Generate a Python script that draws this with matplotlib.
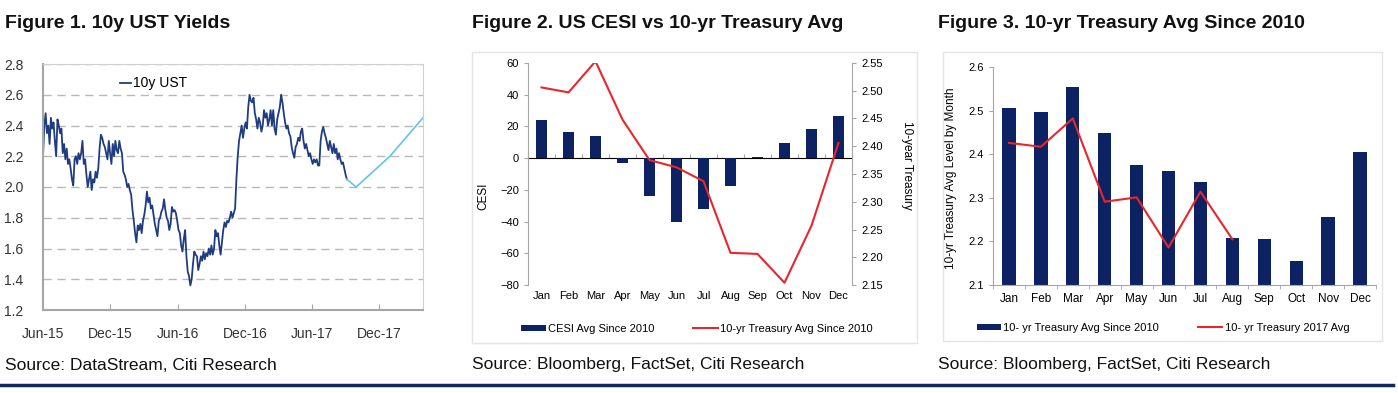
"""
Three panel Citi chart: 10y UST yields, CESI vs 10-yr Treasury avg, 10-yr Treasury avg by month
"""

import matplotlib
matplotlib.use("Agg")
import matplotlib.pyplot as plt
import matplotlib.dates as mdates
import pandas as pd
from matplotlib.patches import Rectangle
from matplotlib.lines import Line2D

plt.rcParams['font.family'] = ['Liberation Sans', 'DejaVu Sans']

months = ["Jan", "Feb", "Mar", "Apr", "May", "Jun",
          "Jul", "Aug", "Sep", "Oct", "Nov", "Dec"]

# Figure 1 - daily-ish 10y UST yield, Jun-15 to early Sep-17
ust_start = "2015-06-01"
ust_end = "2017-09-05"
ust_10y = [2.20, 2.40, 2.48, 2.35, 2.40, 2.28, 2.45, 2.38, 2.42, 2.30,
           2.20, 2.44, 2.40, 2.35, 2.38, 2.22, 2.28, 2.18, 2.25, 2.15,
           2.18, 2.12, 2.05, 2.01, 2.18, 2.20, 2.15, 2.22, 2.18, 2.22,
           2.30, 2.15, 2.18, 2.08, 2.00, 2.05, 2.10, 1.98, 2.05, 2.03,
           2.10, 2.06, 2.12, 2.25, 2.34, 2.32, 2.28, 2.26, 2.22, 2.18,
           2.30, 2.22, 2.15, 2.28, 2.20, 2.30, 2.24, 2.22, 2.30, 2.25,
           2.22, 2.10, 2.08, 2.05, 2.00, 2.02, 1.98, 1.95, 1.85, 1.78,
           1.70, 1.64, 1.75, 1.72, 1.76, 1.70, 1.78, 1.82, 1.88, 1.97,
           1.90, 1.93, 1.86, 1.88, 1.82, 1.76, 1.72, 1.68, 1.78, 1.80,
           1.84, 1.86, 1.92, 1.85, 1.80, 1.78, 1.72, 1.76, 1.87, 1.84,
           1.85, 1.83, 1.78, 1.72, 1.70, 1.62, 1.58, 1.66, 1.72, 1.55,
           1.45, 1.42, 1.36, 1.40, 1.50, 1.58, 1.56, 1.55, 1.46, 1.50,
           1.55, 1.52, 1.58, 1.53, 1.57, 1.55, 1.60, 1.56, 1.62, 1.56,
           1.60, 1.72, 1.68, 1.70, 1.62, 1.56, 1.64, 1.72, 1.77, 1.74,
           1.78, 1.77, 1.80, 1.84, 1.80, 1.83, 1.86, 2.05, 2.20, 2.30,
           2.35, 2.40, 2.32, 2.38, 2.42, 2.38, 2.52, 2.60, 2.56, 2.55,
           2.58, 2.48, 2.44, 2.38, 2.45, 2.42, 2.36, 2.40, 2.50, 2.45,
           2.48, 2.40, 2.44, 2.50, 2.40, 2.50, 2.38, 2.34, 2.44, 2.48,
           2.52, 2.60, 2.55, 2.48, 2.42, 2.38, 2.40, 2.35, 2.33, 2.26,
           2.22, 2.19, 2.26, 2.28, 2.32, 2.30, 2.36, 2.38, 2.30, 2.25,
           2.28, 2.24, 2.20, 2.22, 2.18, 2.15, 2.18, 2.16, 2.18, 2.14,
           2.14, 2.30, 2.36, 2.39, 2.35, 2.32, 2.28, 2.24, 2.30, 2.26,
           2.22, 2.28, 2.22, 2.25, 2.18, 2.22, 2.18, 2.15, 2.16, 2.12,
           2.08, 2.05]
forecast_dates = ["2017-09-05", "2017-09-30", "2017-12-31", "2018-03-31"]
forecast_vals = [2.05, 2.00, 2.20, 2.45]

# Figure 2 / 3 - monthly averages
cesi_avg = [24.2, 16.2, 13.7, -3.2, -23.6, -40.0, -32.2, -17.5, 0.6, 9.3, 18.3, 26.3]
tsy_avg_2010 = [2.506, 2.497, 2.553, 2.448, 2.375, 2.362, 2.337, 2.208, 2.206, 2.154, 2.257, 2.406]
tsy_avg_2017 = [2.426, 2.417, 2.482, 2.291, 2.301, 2.186, 2.314, 2.205]

navy = '#0c2262'
red = '#e8262b'
axis_grey = '#a6a6a6'
narrow = ['Liberation Sans Narrow', 'Liberation Sans', 'DejaVu Sans']

fig = plt.figure(figsize=(13.98, 3.93), dpi=100)
W, H = 1398, 393


def px_axes(x0, y0, x1, y1):
    # axes from pixel box (top-left origin)
    return fig.add_axes([x0 / W, 1 - y1 / H, (x1 - x0) / W, (y1 - y0) / H])


# ---------------- Figure 1 ----------------
ax1 = px_axes(43, 64, 423, 310)
dates = pd.date_range(ust_start, ust_end, periods=len(ust_10y))
ax1.plot(dates, ust_10y, color='#1f3c80', lw=1.3, label='10y UST')
ax1.plot(pd.to_datetime(forecast_dates), forecast_vals, color='#62c4e8', lw=1.2)

ax1.set_xlim(pd.Timestamp("2015-06-01"), pd.Timestamp("2018-03-31"))
ax1.set_ylim(1.2, 2.8)
ax1.set_yticks([1.2, 1.4, 1.6, 1.8, 2.0, 2.2, 2.4, 2.6, 2.8])
ax1.set_yticklabels([f"{v:.1f}" for v in ax1.get_yticks()])
ax1.xaxis.set_major_locator(mdates.MonthLocator(bymonth=[6, 12]))
ax1.xaxis.set_major_formatter(mdates.DateFormatter('%b-%y'))
ax1.yaxis.grid(True, linestyle=(0, (6, 4)), color='#b8b8b8', lw=1.0)
ax1.tick_params(axis='y', length=0, labelsize=10, pad=14, colors='#333333')
ax1.tick_params(axis='x', direction='in', length=4, color=axis_grey,
                labelsize=10, pad=12, colors='#333333')
for s in ax1.spines.values():
    s.set_color('#d0d0d0')
ax1.spines['left'].set_color(axis_grey)
ax1.spines['bottom'].set_color(axis_grey)
ax1.spines['left'].set_linewidth(1.5)
ax1.spines['bottom'].set_linewidth(1.5)
ax1.legend(loc='upper left', bbox_to_anchor=(0.17, 1.0), frameon=False,
           handlelength=0.8, handletextpad=0.1, fontsize=10)

# ---------------- Figure 2 ----------------
fig.add_artist(Rectangle((472 / W, 1 - 343 / H), (917 - 472) / W, (343 - 52) / H,
                         transform=fig.transFigure, fill=False,
                         edgecolor='#e4e4e4', lw=1.0))
ax2 = px_axes(528, 63, 852, 285)
x = list(range(len(months)))
ax2.bar(x, cesi_avg, width=0.4, color=navy, label='CESI Avg Since 2010', zorder=2)
ax2.set_xlim(-0.5, 11.5)
ax2.set_ylim(-80, 60)
ax2.set_yticks(range(-80, 61, 20))
ax2.set_xticks(x)
ax2.set_xticklabels(months)
ax2.tick_params(axis='x', length=0, labelsize=8, pad=4)
ax2.tick_params(axis='y', direction='out', length=3, color=axis_grey, labelsize=8)
ax2.set_ylabel('CESI', fontsize=8.5, va='center')
ax2.yaxis.set_label_coords((483 - 528) / 324, 0.4)
for side in ['top', 'bottom', 'right']:
    ax2.spines[side].set_visible(False)
ax2.spines['left'].set_color(axis_grey)

# zero line with category ticks
zero = ax2.secondary_xaxis(80 / 140)
zero.set_xticks([i - 0.5 for i in range(13)])
zero.set_xticklabels([])
zero.tick_params(length=3, color=axis_grey, direction='out')
zero.spines['bottom'].set_color(axis_grey)

ax2r = ax2.twinx()
ax2r.plot(x, tsy_avg_2010, color=red, lw=1.5, label='10-yr Treasury Avg Since 2010')
ax2r.set_ylim(2.15, 2.55)
ax2r.set_yticks([2.15, 2.20, 2.25, 2.30, 2.35, 2.40, 2.45, 2.50, 2.55])
ax2r.set_yticklabels([f"{v:.2f}" for v in ax2r.get_yticks()])
ax2r.tick_params(axis='y', direction='out', length=3, color=axis_grey, labelsize=8)
ax2r.set_ylabel('10-year Treasury', fontsize=8.5, rotation=270, va='center')
ax2r.yaxis.set_label_coords((907 - 528) / 324, 0.54)
for side in ['top', 'bottom', 'left']:
    ax2r.spines[side].set_visible(False)
ax2r.spines['right'].set_color(axis_grey)

h1, l1 = ax2.get_legend_handles_labels()
h2, l2 = ax2r.get_legend_handles_labels()
fig.legend(h1 + h2, l1 + l2, loc='center', bbox_to_anchor=(697 / W, 1 - 329 / H),
           ncol=2, frameon=False, fontsize=8, handlelength=2.2,
           handleheight=0.5, handletextpad=0.2, columnspacing=3.5)

# ---------------- Figure 3 ----------------
fig.add_artist(Rectangle((943 / W, 1 - 341 / H), (1382 - 943) / W, (341 - 52) / H,
                         transform=fig.transFigure, fill=False,
                         edgecolor='#e4e4e4', lw=1.0))
ax3 = px_axes(993, 67, 1376, 285)
bars3 = ax3.bar(x, tsy_avg_2010, width=0.42, color=navy,
                label='10- yr Treasury Avg Since 2010')
line3, = ax3.plot(x[:len(tsy_avg_2017)], tsy_avg_2017, color=red, lw=1.5,
                  label='10- yr Treasury 2017 Avg')
ax3.set_xlim(-0.5, 11.5)
ax3.set_ylim(2.1, 2.6)
ax3.set_yticks([2.1, 2.2, 2.3, 2.4, 2.5, 2.6])
ax3.set_yticklabels([f"{v:.1f}" for v in ax3.get_yticks()])
ax3.set_xticks(x)
ax3.set_xticklabels(months)
ax3.set_xticks([i - 0.5 for i in range(13)], minor=True)
ax3.tick_params(axis='x', which='major', length=0, labelsize=8.5, pad=6)
ax3.tick_params(axis='x', which='minor', length=3, color=axis_grey)
ax3.tick_params(axis='y', direction='out', length=3, color=axis_grey, labelsize=8)
ax3.set_ylabel('10-yr Treasury Avg Level by Month', fontsize=8.5, va='center')
ax3.yaxis.set_label_coords((951 - 993) / 383, 0.49)
for side in ['top', 'right']:
    ax3.spines[side].set_visible(False)
ax3.spines['left'].set_color(axis_grey)
ax3.spines['bottom'].set_color(axis_grey)
fig.legend([bars3, line3], [bars3.get_label(), line3.get_label()], loc='center',
           bbox_to_anchor=(1163 / W, 1 - 328 / H), ncol=2, frameon=False,
           fontsize=8, handlelength=2.2, handleheight=0.5,
           handletextpad=0.2, columnspacing=3.5)

# ---------------- Titles, sources, rule ----------------
titles = ["Figure 1. 10y UST Yields",
          "Figure 2. US CESI vs 10-yr Treasury Avg",
          "Figure 3. 10-yr Treasury Avg Since 2010"]
sources = ["Source: DataStream, Citi Research",
           "Source: Bloomberg, FactSet, Citi Research",
           "Source: Bloomberg, FactSet, Citi Research"]
left_px = [5, 472, 938]
for t, s, lx in zip(titles, sources, left_px):
    fig.text(lx / W, 1 - 23 / H, t, fontsize=14, fontweight='bold',
             family=narrow, va='center', ha='left', color='#111111')
    fig.text(lx / W, 1 - 365 / H, s, fontsize=12.5, family=narrow,
             va='center', ha='left', color='#111111')

fig.add_artist(Line2D([0, 1393 / W], [1 - 385 / H, 1 - 385 / H],
                      transform=fig.transFigure, color='#10295a', lw=2.5))

plt.savefig('out.png', dpi=100)
